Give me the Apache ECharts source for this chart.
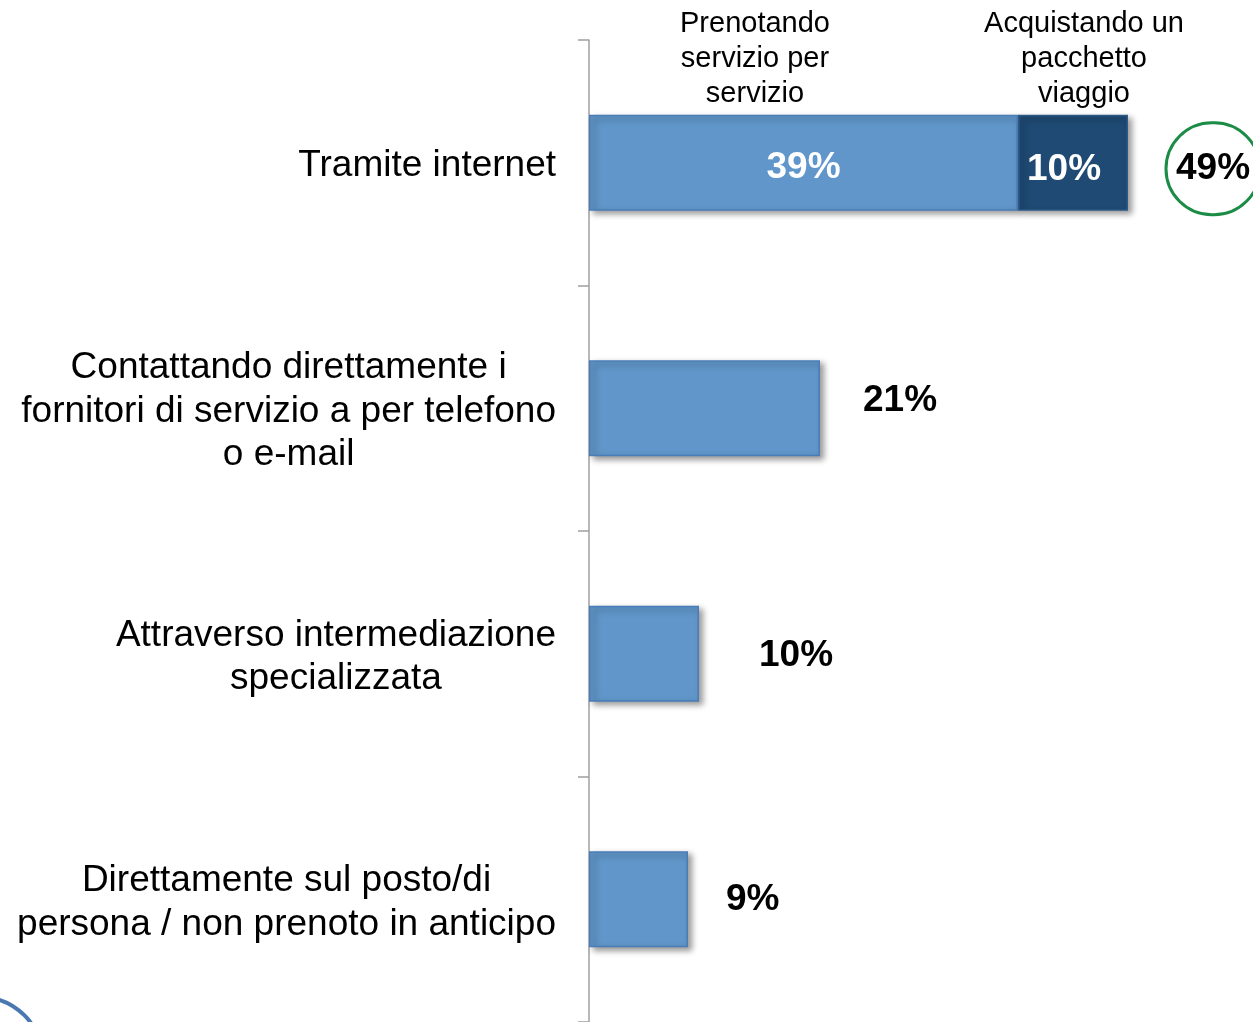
<!DOCTYPE html>
<html>
<head>
<meta charset="utf-8">
<script src="https://cdn.jsdelivr.net/npm/echarts@6/dist/echarts.min.js"></script>
<style>
  html, body { margin: 0; padding: 0; background: #fff; }
  #chart { width: 1253px; height: 1022px; }
</style>
</head>
<body>
<div id="chart"></div>
<script>
var categories = [
  "Tramite internet",
  "Contattando direttamente i\nfornitori di servizio a per telefono\no e-mail",
  "Attraverso intermediazione\nspecializzata",
  "Direttamente sul posto/di\npersona / non prenoto in anticipo"
];
var seriesNames = ["Prenotando\nservizio per\nservizio", "Acquistando un\npacchetto\nviaggio"];
var singleServiceValues = [39, 21, 10, 9];
var packageValues = [10, "-", "-", "-"];

var totals = singleServiceValues.map(function (v, i) {
  var p = packageValues[i] === "-" ? 0 : packageValues[i];
  return v + p;
});

var font = "'Liberation Sans', Arial, sans-serif";
var barShadow = {
  shadowBlur: 6,
  shadowOffsetX: 4,
  shadowOffsetY: 3,
  shadowColor: "rgba(0,0,0,0.4)"
};

// label gaps / vertical nudges for the total labels (style only)
var totalGap = [84, 43, 60, 38];
var totalNudge = [7, -7, 2, 1];

var chartDom = document.getElementById("chart");
var chart = echarts.init(chartDom);

var singleData = singleServiceValues.map(function (v, i) {
  var item = { value: v };
  if (i === 0) {
    item.label = {
      show: true,
      position: "inside",
      offset: [0, 5],
      color: "#fff",
      fontSize: 37,
      fontWeight: "bold",
      fontFamily: font,
      formatter: "{c}%"
    };
  }
  return item;
});

var packageData = packageValues.map(function (v, i) {
  var item = { value: v };
  if (i === 0) {
    item.label = {
      show: true,
      position: "insideLeft",
      distance: 9,
      offset: [0, 7],
      color: "#fff",
      fontSize: 37,
      fontWeight: "bold",
      fontFamily: font,
      formatter: "{c}%"
    };
  }
  return item;
});

var totalData = totals.map(function (t, i) {
  var lbl = {
    show: true,
    position: "right",
    distance: totalGap[i],
    offset: [0, totalNudge[i]],
    color: "#000",
    fontSize: 37,
    fontWeight: "bold",
    fontFamily: font,
    formatter: function () { return t + "%"; }
  };
  if (i === 0) {
    lbl.align = "center";
    lbl.verticalAlign = "middle";
    lbl.width = 94;
    lbl.height = 92;
    lbl.lineHeight = 96;
    lbl.borderRadius = 48;
    lbl.borderColor = "#1B8C45";
    lbl.borderWidth = 3;
    lbl.fontSize = 37;
    lbl.distance = 85;
    lbl.offset = [0, 6];
  }
  return { value: 0, label: lbl };
});

var headerStyle = { fontSize: 29, lineHeight: 35, fontWeight: "normal", color: "#000", fontFamily: font };

var option = {
  backgroundColor: "#fff",
  animation: false,
  title: [
    { text: seriesNames[0], left: 755, top: 6, padding: 0, textAlign: "center", textStyle: headerStyle },
    { text: seriesNames[1], left: 1084, top: 6, padding: 0, textAlign: "center", textStyle: headerStyle }
  ],
  grid: {
    left: 589,
    top: 40,
    width: 660,
    height: 986
  },
  xAxis: {
    type: "value",
    min: 0,
    max: 60,
    show: false
  },
  yAxis: {
    type: "category",
    inverse: true,
    data: categories,
    axisLine: { show: true, lineStyle: { color: "#a0a0a0", width: 1.5 } },
    axisTick: { show: true, length: 11, lineStyle: { color: "#a0a0a0", width: 1.5 } },
    axisLabel: {
      margin: 33,
      padding: [7, 0, 0, 0],
      color: "#000",
      fontSize: 37,
      lineHeight: 43.5,
      fontFamily: font,
      formatter: function (value) {
        return value.split("\n").map(function (s) { return "{c|" + s + "}"; }).join("\n");
      },
      rich: {
        c: { align: "center", fontSize: 37, lineHeight: 43.5, color: "#000", fontFamily: font }
      }
    }
  },
  series: [
    {
      name: seriesNames[0].replace(/\n/g, " "),
      type: "bar",
      stack: "total",
      barWidth: 96,
      itemStyle: Object.assign({ color: "#6096C9", borderColor: "#4A7DB7", borderWidth: 1.5 }, barShadow),
      data: singleData
    },
    {
      name: seriesNames[1].replace(/\n/g, " "),
      type: "bar",
      stack: "total",
      barWidth: 96,
      itemStyle: Object.assign({ color: "#1F4A73", borderColor: "#2D5A88", borderWidth: 1.5 }, barShadow),
      data: packageData
    },
    {
      name: "Totale",
      type: "bar",
      stack: "total",
      barWidth: 96,
      itemStyle: { color: "rgba(0,0,0,0)" },
      data: totalData
    }
  ],
  graphic: [
    {
      type: "arc",
      shape: { cx: -20, cy: 1060, r: 63, startAngle: -Math.PI * 0.75, endAngle: -Math.PI * 0.2 },
      style: { stroke: "#4A78B0", lineWidth: 4, fill: null },
      silent: true
    }
  ]
};

chart.setOption(option);
</script>
</body>
</html>
